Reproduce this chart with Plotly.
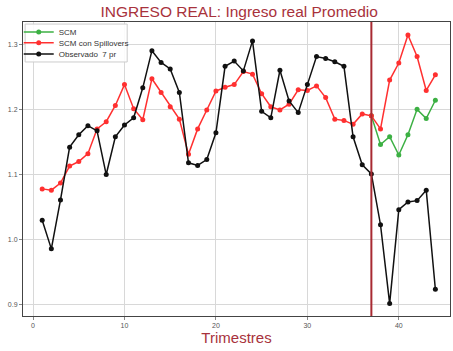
import plotly.graph_objects as go

quarters = list(range(1, 45))
observado = [1.030, 0.986, 1.061, 1.142, 1.161, 1.175, 1.167, 1.100, 1.158, 1.176,
             1.187, 1.233, 1.290, 1.272, 1.262, 1.226, 1.118, 1.114, 1.123, 1.164,
             1.266, 1.274, 1.259, 1.305, 1.197, 1.187, 1.260, 1.213, 1.195, 1.238,
             1.281, 1.278, 1.273, 1.266, 1.158, 1.115, 1.101, 1.023, 0.902, 1.046,
             1.058, 1.060, 1.076, 0.924]
scm_spill = [1.078, 1.076, 1.087, 1.113, 1.120, 1.132, 1.170, 1.181, 1.206, 1.238,
             1.201, 1.184, 1.247, 1.226, 1.204, 1.185, 1.131, 1.170, 1.199, 1.228,
             1.234, 1.238, 1.258, 1.254, 1.224, 1.204, 1.199, 1.208, 1.230, 1.229,
             1.236, 1.218, 1.185, 1.183, 1.177, 1.193, 1.190, 1.170, 1.245, 1.271,
             1.314, 1.281, 1.229, 1.253]
scm_x = list(range(37, 45))
scm = [1.190, 1.146, 1.158, 1.130, 1.161, 1.200, 1.186, 1.214]
cutoff = 37
x_ticks = [0, 10, 20, 30, 40]
y_ticks = [0.9, 1.0, 1.1, 1.2, 1.3]

title_color = "#a8323c"
fig = go.Figure()
fig.add_trace(go.Scatter(x=scm_x, y=scm, name="SCM", mode="lines+markers",
                         line=dict(color="#3cb043", width=1.5),
                         marker=dict(color="#3cb043", size=5), legend="legend"))
fig.add_trace(go.Scatter(x=quarters, y=scm_spill, name="SCM con Spillovers", mode="lines+markers",
                         line=dict(color="#ff3030", width=1.5),
                         marker=dict(color="#ff3030", size=5), legend="legend2"))
fig.add_trace(go.Scatter(x=quarters, y=observado, name="Observado  7 pr", mode="lines+markers",
                         line=dict(color="#111111", width=1.5),
                         marker=dict(color="#111111", size=5), legend="legend3"))
fig.add_vline(x=cutoff, line=dict(color="#a82a32", width=2))

# legend frame
fig.add_shape(type="rect", xref="paper", yref="paper", x0=0.005, x1=0.244, y0=0.864, y1=0.993,
              line=dict(color="#cccccc", width=1), fillcolor="rgba(255,255,255,0.9)", layer="above")

leg_common = dict(x=-0.01, xanchor="left", yanchor="middle", bgcolor="rgba(0,0,0,0)",
                  borderwidth=0, font=dict(size=8, color="#333333"), itemwidth=30)

fig.update_layout(
    width=453, height=351,
    margin=dict(l=23, r=3, t=22, b=35),
    paper_bgcolor="white", plot_bgcolor="white",
    hovermode=False,
    font=dict(family="Liberation Sans, Arial, sans-serif", color="#555555", size=7),
    title=dict(text="INGRESO REAL: Ingreso real Promedio", x=0.528, xanchor="center",
               y=0.967, yanchor="middle",
               font=dict(size=15.5, color=title_color)),
    showlegend=True,
    legend=dict(y=0.966, **leg_common),
    legend2=dict(y=0.929, **leg_common),
    legend3=dict(y=0.891, **leg_common),
    xaxis=dict(range=[-1.1, 45.6], tickvals=x_ticks, showgrid=True, gridcolor="#d8d8d8",
               gridwidth=1, zeroline=False, showline=True, linecolor="#444444", mirror=True,
               ticks="outside", ticklen=3, tickcolor="#888888", automargin=False,
               title=dict(text="Trimestres", font=dict(size=15, color=title_color), standoff=2)),
    yaxis=dict(range=[0.883, 1.334], tickvals=y_ticks, ticktext=["0.9", "1.0", "1.1", "1.2", "1.3"],
               showgrid=True, gridcolor="#d8d8d8", gridwidth=1, zeroline=False,
               showline=True, linecolor="#444444", mirror=True, automargin=False,
               ticks="outside", ticklen=3, tickcolor="#888888"),
)
fig.write_html("out.html", config={"displayModeBar": False},
               post_script="document.body.style.margin='0';")
